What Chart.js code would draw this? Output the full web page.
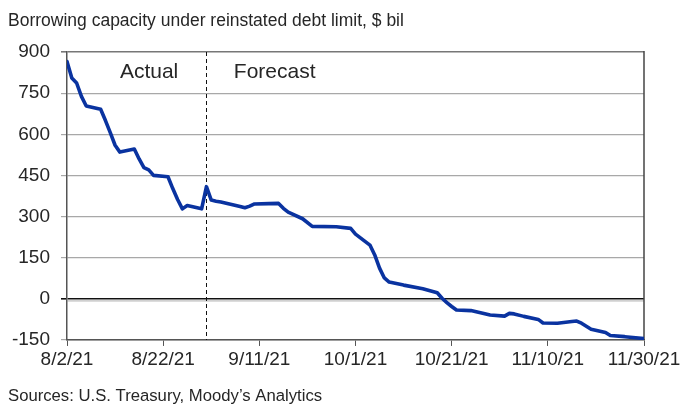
<!DOCTYPE html>
<html>
<head>
<meta charset="utf-8">
<script src="https://cdn.jsdelivr.net/npm/chart.js@4/dist/chart.umd.min.js"></script>
<style>
  html, body { margin: 0; padding: 0; background: #fff; }
  #wrap { width: 684px; height: 406px; }
</style>
</head>
<body>
<div id="wrap"><canvas id="c" width="684" height="406"></canvas></div>
<script>
// Daily borrowing capacity, $ bil (actual through 8/31/21, forecast after)
const dates = [
  '8/2/21','8/3/21','8/4/21','8/5/21','8/6/21','8/9/21','8/10/21','8/11/21','8/12/21','8/13/21',
  '8/16/21','8/17/21','8/18/21','8/19/21','8/20/21','8/23/21','8/24/21','8/25/21','8/26/21','8/27/21',
  '8/30/21','8/31/21','9/1/21','9/2/21','9/3/21','9/7/21','9/8/21','9/9/21','9/10/21','9/13/21',
  '9/15/21','9/16/21','9/17/21','9/20/21','9/22/21','9/27/21','9/30/21','10/1/21','10/4/21','10/5/21',
  '10/6/21','10/7/21','10/8/21','10/11/21','10/15/21','10/18/21','10/19/21','10/20/21','10/21/21','10/22/21',
  '10/25/21','10/29/21','11/1/21','11/2/21','11/3/21','11/5/21','11/8/21','11/9/21','11/12/21','11/15/21',
  '11/16/21','11/17/21','11/19/21','11/22/21','11/23/21','11/26/21','11/30/21'
];
const capacity = [
  865, 805, 787, 738, 703, 691, 650, 606, 560, 535,
  546, 510, 478, 470, 450, 445, 402, 362, 328, 340,
  328, 409, 360, 356, 353, 337, 332, 338, 346, 347,
  348, 330, 316, 292, 264, 263, 257, 236, 196, 160,
  112, 76, 61, 50, 37, 22, 2, -14, -28, -41,
  -43, -59, -63, -53, -55, -64, -75, -88, -89, -83,
  -81, -89, -111, -123, -134, -138, -145
];

const xTickLabels = ['8/2/21', '8/22/21', '9/11/21', '10/1/21', '10/21/21', '11/10/21', '11/30/21'];
const yTickValues = [-150, 0, 150, 300, 450, 600, 750, 900];
const forecastStart = '8/31/21';
const periodLabels = ['Actual', 'Forecast'];

// day count from the first date, so the x axis can stay linear
function dayOf(s) {
  const [m, d, y] = s.split('/').map(Number);
  return (Date.UTC(2000 + y, m - 1, d) - Date.UTC(2021, 7, 2)) / 86400000;
}

const points = dates.map((s, i) => ({ x: dayOf(s), y: capacity[i] }));
const labelByDay = {};
xTickLabels.forEach(s => { labelByDay[dayOf(s)] = s; });

const FONT = 'Liberation Sans, Arial, sans-serif';
const TEXT = '#262626';

// right frame edge, forecast divider and period captions
const decorations = {
  id: 'decorations',
  beforeDatasetsDraw(chart) {
    const { ctx, chartArea: a, scales: { x, y } } = chart;
    ctx.save();
    // soft shadow under the zero line
    const y0 = y.getPixelForValue(0);
    ctx.strokeStyle = 'rgba(150,150,150,0.45)';
    ctx.lineWidth = 2;
    ctx.beginPath();
    ctx.moveTo(a.left, y0 + 2);
    ctx.lineTo(a.right, y0 + 2);
    ctx.stroke();
    // dashed divider between actual and forecast
    const xd = Math.round(x.getPixelForValue(dayOf(forecastStart))) + 0.5;
    ctx.strokeStyle = '#111';
    ctx.lineWidth = 1;
    ctx.setLineDash([4, 3]);
    ctx.beginPath();
    ctx.moveTo(xd, a.top);
    ctx.lineTo(xd, a.bottom);
    ctx.stroke();
    ctx.setLineDash([]);
    // right edge
    ctx.strokeStyle = '#444';
    ctx.lineWidth = 1.5;
    ctx.beginPath();
    ctx.moveTo(a.right, a.top - 1);
    ctx.lineTo(a.right, a.bottom);
    ctx.stroke();
    // captions
    ctx.fillStyle = TEXT;
    ctx.font = '21px ' + FONT;
    ctx.textBaseline = 'middle';
    ctx.textAlign = 'left';
    ctx.fillText(periodLabels[0], x.getPixelForValue(11), y.getPixelForValue(826));
    ctx.fillText(periodLabels[1], x.getPixelForValue(34.7), y.getPixelForValue(826));
    ctx.restore();
  }
};

new Chart(document.getElementById('c'), {
  type: 'line',
  data: {
    datasets: [{
      data: points,
      borderColor: '#0a33a0',
      borderWidth: 3.6,
      pointRadius: 0,
      tension: 0,
      fill: false,
      borderJoinStyle: 'round',
      borderCapStyle: 'round'
    }]
  },
  options: {
    responsive: false,
    animation: false,
    devicePixelRatio: 1,
    layout: { padding: { left: 8, right: 40, top: 0, bottom: 0 } },
    plugins: {
      legend: { display: false },
      tooltip: { enabled: false },
      title: {
        display: true,
        text: 'Borrowing capacity under reinstated debt limit, $ bil',
        align: 'start',
        color: TEXT,
        font: { family: FONT, size: 17.5, weight: 'normal', lineHeight: 1.2 },
        padding: { top: 11, bottom: 20 }
      },
      subtitle: {
        display: true,
        position: 'bottom',
        text: 'Sources: U.S. Treasury, Moody\u2019s Analytics',
        align: 'start',
        color: TEXT,
        font: { family: FONT, size: 16.7, weight: 'normal', lineHeight: 1.2 },
        padding: { top: 10, bottom: 0 }
      }
    },
    scales: {
      x: {
        type: 'linear',
        min: 0,
        max: 120,
        afterFit(scale) { scale.height = 36; },
        afterBuildTicks(scale) { scale.ticks = xTickLabels.map(s => ({ value: dayOf(s) })); },
        ticks: {
          autoSkip: false,
          maxRotation: 0,
          padding: 2,
          color: TEXT,
          font: { family: FONT, size: 19 },
          callback: v => labelByDay[v] || ''
        },
        grid: { drawOnChartArea: false, drawTicks: true, tickLength: 6, color: '#555', lineWidth: 1 },
        border: { display: true, color: '#555', width: 1.5 }
      },
      y: {
        min: -150,
        max: 900,
        afterFit(scale) { scale.width = 59; },
        afterBuildTicks(scale) { scale.ticks = yTickValues.map(v => ({ value: v })); },
        ticks: {
          padding: 11,
          color: TEXT,
          font: { family: FONT, size: 19 }
        },
        grid: {
          drawTicks: true,
          tickLength: 6,
          color: ctx => ctx.tick && ctx.tick.value === 0 ? '#111' : (ctx.tick && ctx.tick.value === 900 ? '#777' : '#a8a8a8'),
          lineWidth: ctx => ctx.tick && (ctx.tick.value === 0 || ctx.tick.value === 900) ? 1.6 : 1.2
        },
        border: { display: true, color: '#555', width: 1.5 }
      }
    }
  },
  plugins: [decorations]
});
</script>
</body>
</html>
